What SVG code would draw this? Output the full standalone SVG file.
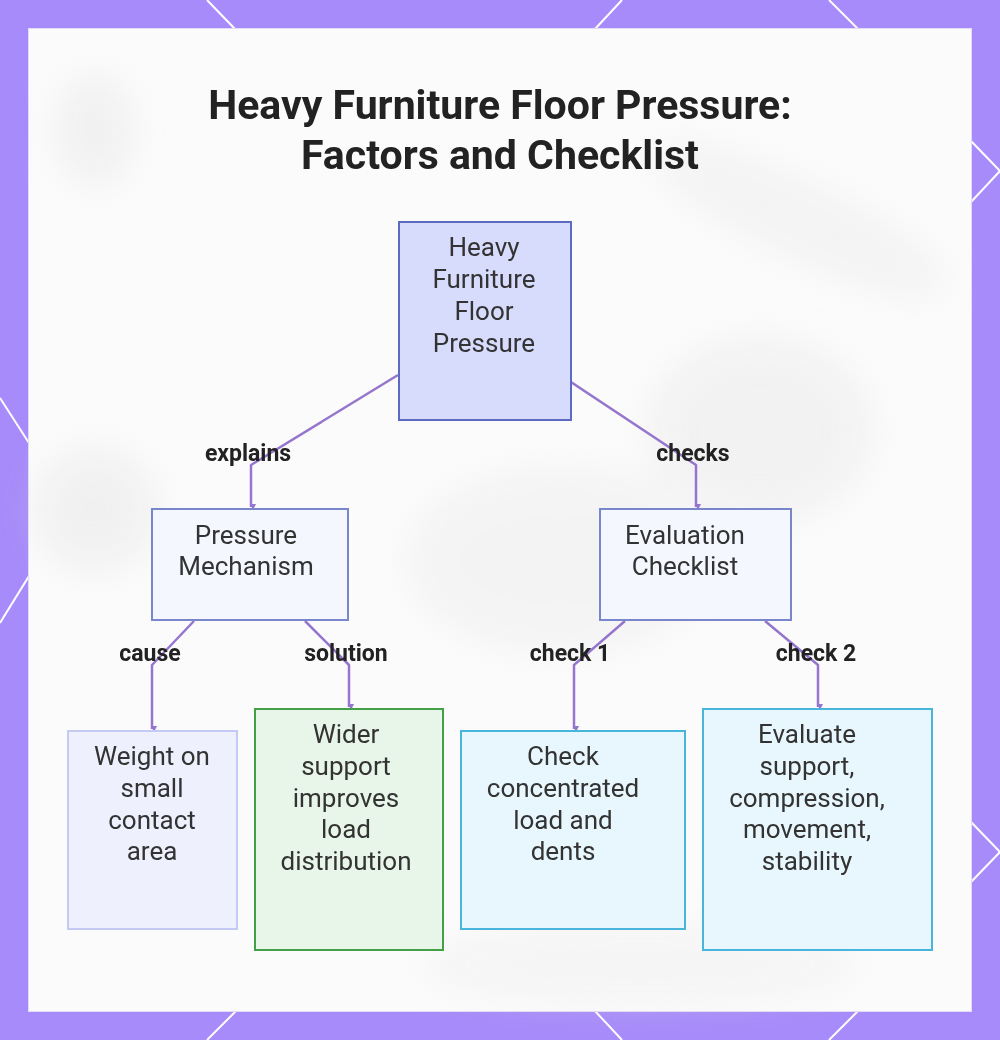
<svg xmlns="http://www.w3.org/2000/svg" width="1000" height="1040" viewBox="0 0 1000 1040">
  <defs>
    <style>
      .title { font-family: Roboto, "Liberation Sans", sans-serif; font-weight: 700; font-size: 41px; fill: #222222; text-anchor: middle; }
      .ntext { font-family: Roboto, "Liberation Sans", sans-serif; font-weight: 400; font-size: 26px; fill: #333333; text-anchor: middle; }
      .lbl { font-family: Roboto, "Liberation Sans", sans-serif; font-weight: 700; font-size: 23px; fill: #222222; text-anchor: middle; }
      .edge { fill: none; stroke: #9575CD; stroke-width: 2.5; stroke-linejoin: round; }
      .bline { stroke: #ffffff; stroke-width: 2; }
    </style>
    <marker id="arr" markerWidth="8" markerHeight="8" refX="4" refY="6" orient="auto-start-reverse" markerUnits="userSpaceOnUse" viewBox="0 0 8 8">
      <path d="M1,1 L4,7 L7,1 Z" fill="#9575CD" transform="rotate(-90 4 4)"/>
    </marker>
    <filter id="blur" x="-50%" y="-50%" width="200%" height="200%">
      <feGaussianBlur stdDeviation="20"/>
    </filter>
  </defs>

  <!-- frame -->
  <rect x="0" y="0" width="1000" height="1040" fill="#A78BFA"/>
  <g class="bline">
    <line x1="207" y1="0" x2="235" y2="29"/>
    <line x1="622" y1="0" x2="595" y2="29"/>
    <line x1="829" y1="0" x2="858" y2="29"/>
    <line x1="236" y1="1011" x2="207" y2="1040"/>
    <line x1="595" y1="1011" x2="622" y2="1040"/>
    <line x1="858" y1="1011" x2="829" y2="1040"/>
    <line x1="0" y1="398" x2="29" y2="443"/>
    <line x1="29" y1="576" x2="0" y2="623"/>
    <line x1="971" y1="141" x2="1000" y2="171"/>
    <line x1="971" y1="202" x2="1000" y2="171"/>
    <line x1="971" y1="822" x2="1000" y2="852"/>
    <line x1="971" y1="882" x2="1000" y2="852"/>
  </g>
  <rect x="28.5" y="28.5" width="943" height="983" fill="#fbfbfb" stroke="#e4dcf7" stroke-width="1"/>

  <!-- blurred background hints -->
  <g filter="url(#blur)" opacity="0.3">
    <ellipse cx="95" cy="130" rx="35" ry="55" fill="#d6d6d6"/>
    <ellipse cx="95" cy="510" rx="60" ry="60" fill="#d8d8d8"/>
    <ellipse cx="560" cy="560" rx="150" ry="90" fill="#e2e2e2"/>
    <ellipse cx="760" cy="430" rx="110" ry="90" fill="#dddddd"/>
    <ellipse cx="640" cy="965" rx="220" ry="35" fill="#e6e6e6"/>
    <ellipse cx="800" cy="220" rx="160" ry="35" fill="#e0e0e0" transform="rotate(25 800 220)"/>
  </g>

  <!-- title -->
  <text class="title" x="500" y="119">Heavy Furniture Floor Pressure:</text>
  <text class="title" x="500" y="169">Factors and Checklist</text>

  <!-- connectors -->
  <g id="connectors">
    <polyline class="edge" points="398,375 251,465 251,507" marker-end="url(#arr)"/>
    <polyline class="edge" points="571,382 696,465 696,507" marker-end="url(#arr)"/>
    <polyline class="edge" points="194,621 152,665 152,729" marker-end="url(#arr)"/>
    <polyline class="edge" points="305,621 349,665 349,707" marker-end="url(#arr)"/>
    <polyline class="edge" points="625,621 574,665 574,729" marker-end="url(#arr)"/>
    <polyline class="edge" points="765,621 818,665 818,707" marker-end="url(#arr)"/>
    <text class="lbl" x="248" y="461">explains</text>
    <text class="lbl" x="693" y="461">checks</text>
    <text class="lbl" x="150" y="661">cause</text>
    <text class="lbl" x="346" y="661">solution</text>
    <text class="lbl" x="570" y="661">check 1</text>
    <text class="lbl" x="816" y="661">check 2</text>
  </g>

  <!-- nodes -->
  <g id="node-root">
    <rect x="399" y="222" width="172" height="198" fill="#D8DCFC" stroke="#5C6BC0" stroke-width="2"/>
    <text class="ntext" x="484" y="256">Heavy</text>
    <text class="ntext" x="484" y="288">Furniture</text>
    <text class="ntext" x="484" y="320">Floor</text>
    <text class="ntext" x="484" y="352">Pressure</text>
  </g>
  <g id="node-mechanism">
    <rect x="152" y="509" width="196" height="111" fill="#F5F7FF" stroke="#7986CB" stroke-width="2"/>
    <text class="ntext" x="246" y="544">Pressure</text>
    <text class="ntext" x="246" y="575">Mechanism</text>
  </g>
  <g id="node-checklist">
    <rect x="600" y="509" width="191" height="111" fill="#F5F7FF" stroke="#7986CB" stroke-width="2"/>
    <text class="ntext" x="685" y="544">Evaluation</text>
    <text class="ntext" x="685" y="575">Checklist</text>
  </g>
  <g id="node-cause">
    <rect x="68" y="731" width="169" height="198" fill="#EEF0FE" stroke="#C5CAF5" stroke-width="2"/>
    <text class="ntext" x="152" y="765">Weight on</text>
    <text class="ntext" x="152" y="797">small</text>
    <text class="ntext" x="152" y="829">contact</text>
    <text class="ntext" x="152" y="860">area</text>
  </g>
  <g id="node-solution">
    <rect x="255" y="709" width="188" height="241" fill="#E8F5E9" stroke="#43A047" stroke-width="2"/>
    <text class="ntext" x="346" y="743">Wider</text>
    <text class="ntext" x="346" y="775">support</text>
    <text class="ntext" x="346" y="807">improves</text>
    <text class="ntext" x="346" y="838">load</text>
    <text class="ntext" x="346" y="870">distribution</text>
  </g>
  <g id="node-check1">
    <rect x="461" y="731" width="224" height="198" fill="#E8F7FD" stroke="#4AB5DA" stroke-width="2"/>
    <text class="ntext" x="563" y="765">Check</text>
    <text class="ntext" x="563" y="797">concentrated</text>
    <text class="ntext" x="563" y="829">load and</text>
    <text class="ntext" x="563" y="860">dents</text>
  </g>
  <g id="node-check2">
    <rect x="703" y="709" width="229" height="241" fill="#E8F7FD" stroke="#4AB5DA" stroke-width="2"/>
    <text class="ntext" x="807" y="743">Evaluate</text>
    <text class="ntext" x="807" y="775">support,</text>
    <text class="ntext" x="807" y="807">compression,</text>
    <text class="ntext" x="807" y="838">movement,</text>
    <text class="ntext" x="807" y="870">stability</text>
  </g>
</svg>
